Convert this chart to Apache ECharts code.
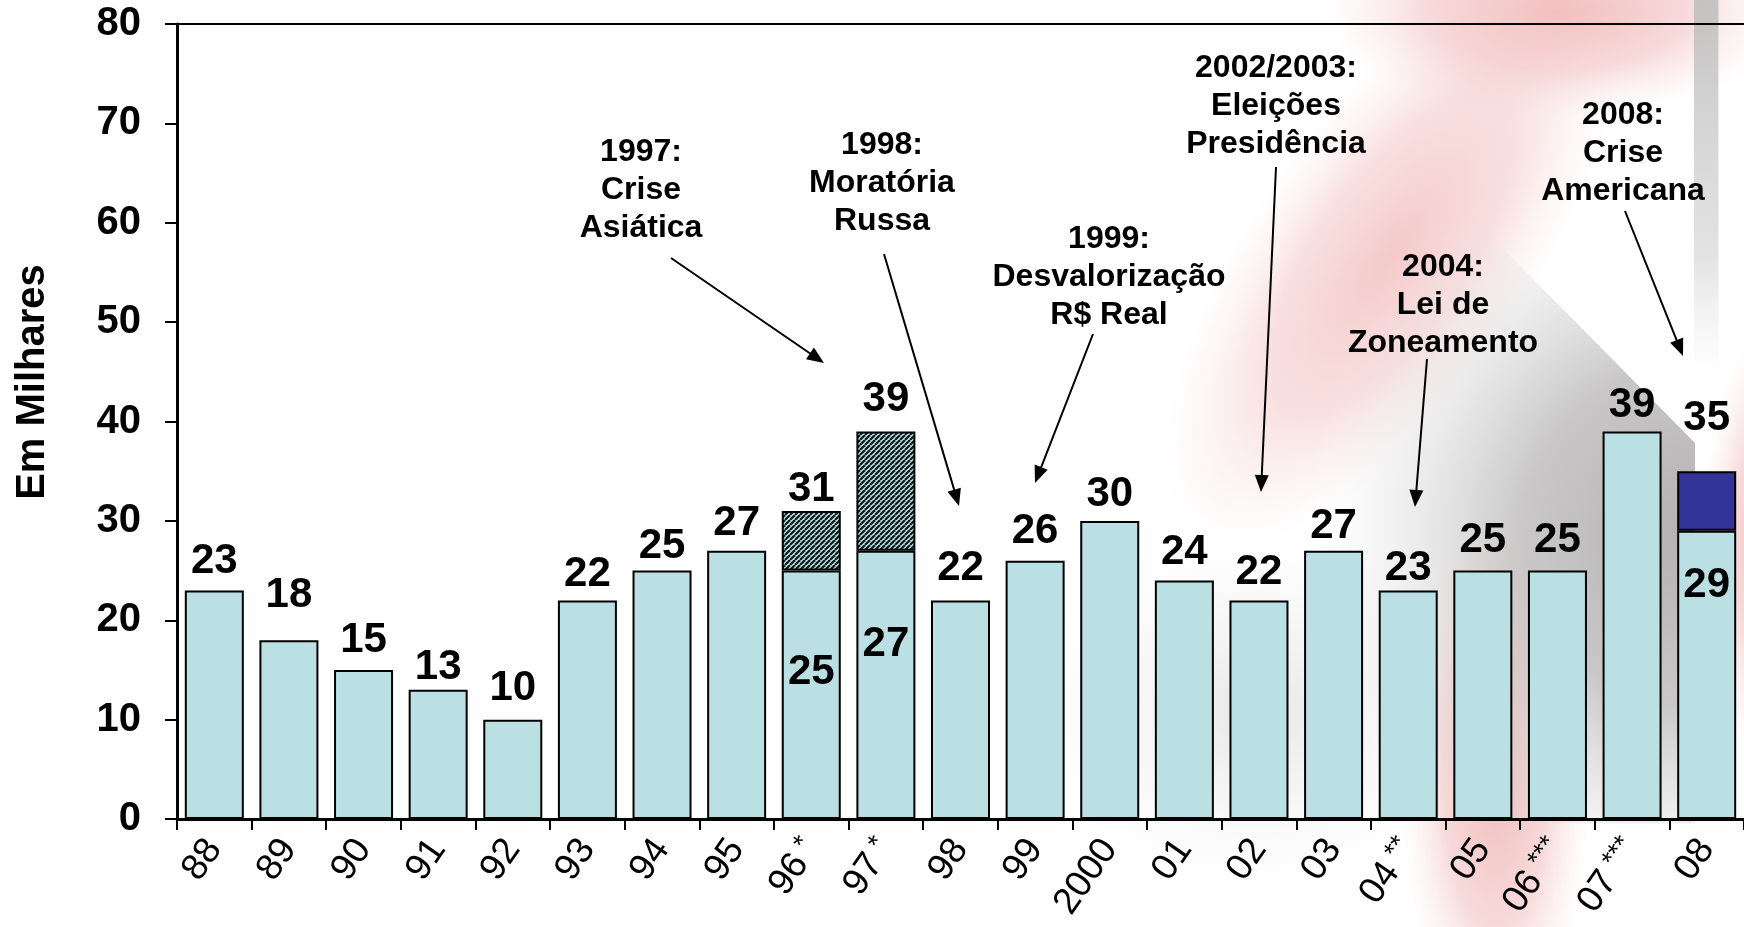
<!DOCTYPE html>
<html>
<head>
<meta charset="utf-8">
<title>Em Milhares 1988–2008</title>
<script src="https://cdn.jsdelivr.net/npm/echarts@6/dist/echarts.min.js"></script>
<style>
  html, body { margin: 0; padding: 0; background: #ffffff; }
  #wrap { position: relative; width: 1744px; height: 927px; overflow: hidden; }
  #bg, #chart { position: absolute; left: 0; top: 0; width: 1744px; height: 927px; }
</style>
</head>
<body>
<div id="wrap">
  <!-- soft decorative backdrop of the slide -->
  <svg id="bg" viewBox="0 0 1568 833" preserveAspectRatio="none">
    <defs>
      <radialGradient id="pinkG">
        <stop offset="0" stop-color="#efb0b0" stop-opacity="0.85"/>
        <stop offset="0.55" stop-color="#f2c0c0" stop-opacity="0.6"/>
        <stop offset="1" stop-color="#f8dcdc" stop-opacity="0"/>
      </radialGradient>
      <radialGradient id="greyG">
        <stop offset="0" stop-color="#d2d2d2" stop-opacity="0.55"/>
        <stop offset="1" stop-color="#e8e8e8" stop-opacity="0"/>
      </radialGradient>
      <radialGradient id="wedgeG" gradientUnits="userSpaceOnUse" cx="1524" cy="480" r="340">
        <stop offset="0" stop-color="#aeacac" stop-opacity="0.95"/>
        <stop offset="0.45" stop-color="#bbb9b9" stop-opacity="0.8"/>
        <stop offset="1" stop-color="#dedede" stop-opacity="0"/>
      </radialGradient>
      <linearGradient id="stripFade" x1="0" y1="0" x2="0" y2="1">
        <stop offset="0" stop-color="#bdbdbd" stop-opacity="0.9"/>
        <stop offset="0.7" stop-color="#cccccc" stop-opacity="0.55"/>
        <stop offset="1" stop-color="#dddddd" stop-opacity="0"/>
      </linearGradient>
    </defs>
    <ellipse cx="1130" cy="640" rx="200" ry="160" fill="url(#greyG)"/>
    <ellipse cx="1400" cy="10" rx="210" ry="95" fill="url(#pinkG)"/>
    <ellipse cx="1250" cy="230" rx="310" ry="125" transform="rotate(-55 1250 230)" fill="url(#pinkG)" opacity="0.8"/>
    <ellipse cx="1345" cy="700" rx="85" ry="240" fill="url(#pinkG)"/>
    <ellipse cx="1595" cy="490" rx="65" ry="200" fill="url(#pinkG)"/>
    <polygon points="1170,40 1524,398 1524,740 1080,740 1080,40" fill="url(#wedgeG)"/>
    <rect x="1523" y="-10" width="22" height="345" fill="url(#stripFade)"/>
  </svg>
  <div id="chart"></div>
</div>
<script>
// ---- data -------------------------------------------------------------
const categories = ['88', '89', '90', '91', '92', '93', '94', '95', '96 *', '97 *',
                    '98', '99', '2000', '01', '02', '03', '04 **', '05', '06 ***', '07 ***', '08'];
// lower (main) segment of each bar
const baseValues = [23, 18, 15, 13, 10, 22, 25, 27, 25, 27,
                    22, 26, 30, 24, 22, 27, 23, 25, 25, 39, 29];
// upper segment stacked on 96, 97 and 08
const extraValues = [null, null, null, null, null, null, null, null, 6, 12,
                     null, null, null, null, null, null, null, null, null, null, 6];
const yTicks = { min: 0, max: 80, step: 10 };
const axisTitle = 'Em Milhares';
const notes = [
  '1997:\nCrise\nAsiática',
  '1998:\nMoratória\nRussa',
  '1999:\nDesvalorização\nR$ Real',
  '2002/2003:\nEleições\nPresidência',
  '2004:\nLei de\nZoneamento',
  '2008:\nCrise\nAmericana'
];

// ---- layout & style ---------------------------------------------------
const FONT = '"Liberation Sans", Arial, Helvetica, sans-serif';
const CYAN = '#BBE0E3';
const NAVY = '#333399';
const hatchedCats = ['96 *', '97 *'];
// gap between bar top and its value label (px)
const topGap = [8, 24, 9, 1, 10, 5, 3, 6, 1, 11, 11, 8, 5, 7, 7, 3, 1, 9, 9, 5, 32];
// offset of the lower-segment label inside stacked bars (px)
const innerGap = { 8: 81, 9: 73, 20: 34 };
// annotation text anchor (centre x, top y) and arrow [x1, y1, x2, y2]
const noteLayout = [
  { x: 641,  y: 133, arrow: [671, 258, 824, 363] },
  { x: 882,  y: 126, arrow: [884, 254, 959, 506] },
  { x: 1109, y: 220, arrow: [1093, 334, 1035, 483] },
  { x: 1276, y: 49,  arrow: [1276, 167, 1261, 492] },
  { x: 1443, y: 248, arrow: [1427, 359, 1415, 507] },
  { x: 1623, y: 96,  arrow: [1625, 211, 1683, 356] }
];

function hatchImage() {
  const s = 5;
  const c = document.createElement('canvas');
  c.width = s; c.height = s;
  const g = c.getContext('2d');
  g.fillStyle = CYAN;
  g.fillRect(0, 0, s, s);
  g.strokeStyle = '#061416';
  g.lineWidth = 2.1;
  for (const o of [-s, 0, s]) {
    g.beginPath();
    g.moveTo(o, s);
    g.lineTo(o + s, 0);
    g.stroke();
  }
  return c;
}
const hatchFill = { image: hatchImage(), repeat: 'repeat' };

const valueLabel = {
  show: true, color: '#000', fontFamily: FONT, fontWeight: 'bold',
  fontSize: 42, lineHeight: 42
};

const baseData = baseValues.map((v, i) => {
  const stacked = extraValues[i] != null;
  return {
    value: v,
    label: stacked
      ? { position: 'insideTop', distance: innerGap[i] }
      : { position: 'top', distance: topGap[i] }
  };
});

const extraData = extraValues.map((v, i) => {
  if (v == null) return null;
  return {
    value: v,
    itemStyle: { color: hatchedCats.includes(categories[i]) ? hatchFill : NAVY },
    label: { position: 'top', distance: topGap[i] }
  };
});

function arrowGraphic(a) {
  const [x1, y1, x2, y2] = a;
  const dx = x2 - x1, dy = y2 - y1;
  const L = Math.hypot(dx, dy);
  const ux = dx / L, uy = dy / L;
  const head = 17, half = 7;
  const bx = x2 - ux * head, by = y2 - uy * head;
  return [
    { type: 'line', silent: true,
      shape: { x1, y1, x2: bx + ux * 2, y2: by + uy * 2 },
      style: { stroke: '#000', lineWidth: 2 } },
    { type: 'polygon', silent: true,
      shape: { points: [[x2, y2], [bx - uy * half, by + ux * half], [bx + uy * half, by - ux * half]] },
      style: { fill: '#000' } }
  ];
}

const graphics = [
  { type: 'text', x: 33, y: 382, rotation: Math.PI / 2, silent: true,
    style: { text: axisTitle, font: 'bold 40px ' + FONT, fill: '#000',
             align: 'center', verticalAlign: 'middle' } }
];
notes.forEach((t, i) => {
  const l = noteLayout[i];
  graphics.push({
    type: 'text', x: l.x, y: l.y, silent: true,
    style: { text: t, font: 'bold 32px ' + FONT, lineHeight: 38, fill: '#000',
             align: 'center', verticalAlign: 'top' }
  });
  graphics.push(...arrowGraphic(l.arrow));
});

const chart = echarts.init(document.getElementById('chart'), null, { renderer: 'canvas' });
chart.setOption({
  backgroundColor: 'transparent',
  animation: false,
  grid: { left: 177, top: 24, right: -10, bottom: 108, containLabel: false },
  xAxis: [
    {
      type: 'category', data: categories, position: 'bottom',
      axisLine: { show: true, lineStyle: { color: '#000', width: 3 } },
      axisTick: { show: true, length: 11, alignWithLabel: false, lineStyle: { color: '#000', width: 2 } },
      splitLine: { show: false },
      axisLabel: {
        interval: 0, rotate: 55, margin: 24, color: '#000',
        formatter: (val) => {
          const parts = val.split(' ');
          return parts.length > 1 ? '{n|' + parts[0] + '}{s| ' + parts[1] + '}' : '{n|' + val + '}';
        },
        rich: {
          n: { fontFamily: FONT, fontSize: 37, lineHeight: 40, color: '#000' },
          s: { fontFamily: FONT, fontSize: 27, lineHeight: 27, color: '#000', verticalAlign: 'top' }
        }
      }
    },
    {
      type: 'category', data: categories, position: 'top',
      axisLine: { show: true, lineStyle: { color: '#000', width: 2 } },
      axisTick: { show: false }, axisLabel: { show: false }, splitLine: { show: false }
    }
  ],
  yAxis: {
    type: 'value', min: yTicks.min, max: yTicks.max, interval: yTicks.step,
    axisLine: { show: true, lineStyle: { color: '#000', width: 3 } },
    axisTick: { show: true, length: 12, lineStyle: { color: '#000', width: 2 } },
    splitLine: { show: false },
    axisLabel: { color: '#000', fontFamily: FONT, fontWeight: 'bold', fontSize: 40, margin: 36 }
  },
  series: [
    {
      name: 'base', type: 'bar', stack: 'total', barWidth: 59,
      itemStyle: { color: CYAN, borderColor: '#000', borderWidth: 2 },
      label: valueLabel,
      data: baseData,
      z: 2
    },
    {
      name: 'extra', type: 'bar', stack: 'total', barWidth: 59,
      itemStyle: { color: NAVY, borderColor: '#000', borderWidth: 2 },
      label: Object.assign({}, valueLabel, {
        formatter: (p) => String(baseValues[p.dataIndex] + p.value)
      }),
      data: extraData,
      z: 2
    }
  ],
  graphic: { elements: graphics }
});
</script>
</body>
</html>
